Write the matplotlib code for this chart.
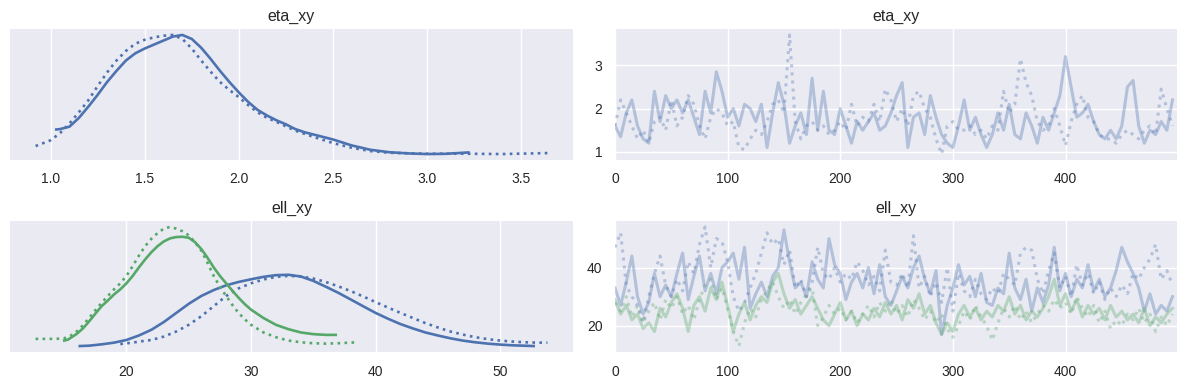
import numpy as np
import matplotlib
matplotlib.use("Agg")
import matplotlib.pyplot as plt

# ---- KDE curves (x grid, density) ----
eta_kde0_x = [1.03, 1.05, 1.1, 1.15, 1.2, 1.25, 1.3, 1.35, 1.4, 1.45, 1.5, 1.55, 1.6, 1.65, 1.7, 1.75,
              1.8, 1.85, 1.9, 1.95, 2.0, 2.05, 2.1, 2.15, 2.2, 2.25, 2.3, 2.35, 2.4, 2.5, 2.6, 2.7, 2.8,
              2.9, 3.0, 3.1, 3.22]
eta_kde0_y = [0.325, 0.33, 0.36, 0.47, 0.61, 0.76, 0.92, 1.06, 1.19, 1.28, 1.34, 1.39, 1.44, 1.49, 1.51, 1.46,
              1.35, 1.21, 1.06, 0.92, 0.79, 0.67, 0.57, 0.50, 0.44, 0.39, 0.33, 0.29, 0.26, 0.20, 0.125,
              0.07, 0.04, 0.025, 0.017, 0.02, 0.037]

eta_kde1_x = [0.92, 1.0, 1.05, 1.1, 1.15, 1.2, 1.25, 1.3, 1.35, 1.4, 1.45, 1.5, 1.55, 1.6, 1.65, 1.7,
              1.75, 1.8, 1.85, 1.9, 1.95, 2.0, 2.05, 2.1, 2.15, 2.2, 2.3, 2.4, 2.5, 2.6, 2.7, 2.8, 3.0,
              3.2, 3.4, 3.64]
eta_kde1_y = [0.117, 0.19, 0.28, 0.40, 0.54, 0.69, 0.87, 1.04, 1.19, 1.31, 1.40, 1.45, 1.48, 1.50, 1.51, 1.46,
              1.34, 1.19, 1.05, 0.92, 0.82, 0.73, 0.63, 0.54, 0.47, 0.42, 0.31, 0.23, 0.155, 0.096, 0.054,
              0.033, 0.021, 0.021, 0.017, 0.029]

ell0_kde0_x = [16.25, 17, 18, 19, 20, 21, 22, 23, 24, 25, 26, 27, 28, 29, 30, 31, 32, 33, 34, 35, 36,
               37, 38, 39, 40, 41, 42, 43, 44, 45, 46, 47, 48, 49, 50, 51, 52.7]
ell0_kde0_y = [0.0019, 0.0022, 0.0033, 0.0047, 0.0069, 0.0106, 0.0153, 0.0217, 0.0292, 0.0367, 0.0431,
               0.0480, 0.0519, 0.0547, 0.0569, 0.0589, 0.0603, 0.0606, 0.0592, 0.0556, 0.0508, 0.0458,
               0.0403, 0.0347, 0.0292, 0.0244, 0.0200, 0.0164, 0.0131, 0.0106, 0.0083, 0.0064, 0.0050,
               0.0039, 0.0031, 0.0025, 0.0019]
ell0_kde1_x = [19.5, 20.5, 21, 22, 23, 24, 25, 26, 27, 28, 29, 30, 31, 32, 33, 34, 35, 36, 37, 38, 39,
               40, 41, 42, 43, 44, 45, 46, 47, 48, 49, 50, 51, 52, 53, 53.8]
ell0_kde1_y = [0.0036, 0.0047, 0.0056, 0.0069, 0.0097, 0.0139, 0.0194, 0.0264, 0.0347, 0.0431, 0.0494,
               0.0536, 0.0567, 0.0589, 0.0597, 0.0592, 0.0575, 0.0547, 0.0511, 0.0472, 0.0428, 0.0381,
               0.0336, 0.0292, 0.0250, 0.0208, 0.0172, 0.0139, 0.0114, 0.0092, 0.0076, 0.0064, 0.0056,
               0.0050, 0.0047, 0.0047]

ell1_kde0_x = [15.0, 15.3, 15.6, 16, 16.5, 17, 17.5, 18, 18.5, 19, 19.5, 20, 20.5, 21, 21.5, 22, 22.5,
               23, 23.5, 24, 24.5, 25, 25.5, 26, 26.5, 27, 27.5, 28, 28.5, 29, 29.5, 30, 31, 32, 33,
               34, 35, 36, 36.8]
ell1_kde0_y = [0.0064, 0.0072, 0.0092, 0.0119, 0.0164, 0.0222, 0.0286, 0.0347, 0.0394, 0.0444, 0.0486,
               0.0536, 0.0597, 0.0667, 0.0733, 0.0792, 0.0842, 0.0881, 0.0906, 0.0917, 0.0919, 0.0911,
               0.0875, 0.0819, 0.0747, 0.0667, 0.0597, 0.0536, 0.0475, 0.0417, 0.0364, 0.0319, 0.0250,
               0.0194, 0.0158, 0.0131, 0.0117, 0.0111, 0.0111]
ell1_kde1_x = [12.7, 14, 14.5, 15, 15.5, 16, 16.5, 17, 17.5, 18, 18.5, 19, 19.5, 20, 20.5, 21, 21.5,
               22, 22.5, 23, 23.5, 24, 24.5, 25, 25.5, 26, 26.5, 27, 27.5, 28, 28.5, 29, 29.5, 30, 31,
               32, 33, 34, 35, 36, 37, 38.5]
ell1_kde1_y = [0.0078, 0.0078, 0.0079, 0.0083, 0.0103, 0.0139, 0.0190, 0.0250, 0.0314, 0.0375, 0.0431,
               0.0486, 0.0536, 0.0597, 0.0678, 0.0764, 0.0842, 0.0903, 0.0950, 0.0986, 0.1000, 0.0986,
               0.0964, 0.0931, 0.0875, 0.0806, 0.0706, 0.0597, 0.0508, 0.0431, 0.0358, 0.0292, 0.0239,
               0.0194, 0.0131, 0.0092, 0.0064, 0.0050, 0.0042, 0.0039, 0.0042, 0.0050]

# ---- traces, one value every 5 draws ----
draw_step = 5
eta_chain0 = [1.6, 1.35, 1.9, 2.2, 1.6, 1.3, 1.2, 2.4, 1.7, 2.3,
              2.0, 2.2, 1.9, 2.2, 1.8, 1.4, 2.4, 1.9, 2.85, 2.4,
              1.8, 2.0, 1.6, 2.1, 2.0, 1.7, 2.1, 1.1, 1.9, 2.6,
              2.1, 1.2, 1.6, 1.9, 1.4, 2.7, 1.5, 2.4, 1.5, 1.4,
              2.0, 1.6, 1.2, 1.7, 1.5, 1.7, 1.9, 1.5, 1.6, 1.9,
              2.3, 2.6, 1.1, 1.8, 1.9, 1.4, 2.3, 1.8, 1.4, 1.2,
              1.1, 1.6, 2.2, 1.5, 1.8, 1.4, 1.1, 1.4, 1.9, 1.5,
              2.1, 1.4, 1.3, 1.9, 1.6, 1.2, 1.8, 1.5, 1.9, 2.3,
              3.2, 2.5, 1.8, 1.9, 2.1, 1.7, 1.4, 1.3, 1.5, 1.3,
              1.6, 2.5, 2.65, 1.6, 1.2, 1.5, 1.4, 1.7, 1.5, 2.2]
eta_chain1 = [1.6, 2.2, 1.9, 1.6, 1.3, 1.5, 1.2, 1.7, 1.8, 1.5,
              2.2, 1.6, 1.8, 2.3, 2.1, 1.6, 1.3, 1.8, 2.0, 1.9,
              1.6, 1.7, 1.1, 1.05, 1.3, 1.5, 1.4, 1.7, 2.1, 2.2,
              1.9, 3.7, 1.7, 1.3, 1.6, 1.7, 1.5, 1.6, 1.4, 1.5,
              1.7, 1.5, 2.1, 1.6, 1.8, 1.7, 2.1, 1.7, 2.45, 2.2,
              1.7, 2.0, 1.6, 2.3, 2.4, 2.0, 1.8, 1.3, 0.95, 1.6,
              1.7, 1.5, 1.5, 1.6, 1.4, 1.5, 1.3, 1.6, 1.5, 2.4,
              1.9, 2.1, 3.15, 2.6, 2.3, 1.7, 1.5, 1.6, 2.0, 1.6,
              1.15, 1.7, 2.1, 2.3, 1.8, 1.7, 1.4, 1.3, 1.3, 1.2,
              1.4, 1.5, 1.4, 1.3, 1.5, 1.6, 1.4, 2.45, 2.0, 1.6]

ell0_chain0 = [33, 27, 35, 44, 30, 24, 28, 38, 30, 34,
               30, 38, 45, 29, 37, 44, 32, 38, 31, 40,
               42, 45, 36, 47, 26, 31, 35, 30, 37, 40,
               53, 42, 33, 35, 30, 42, 36, 33, 50, 41,
               38, 29, 35, 38, 33, 40, 31, 41, 30, 27,
               32, 37, 33, 40, 44, 36, 31, 39, 17, 27,
               33, 41, 34, 37, 30, 38, 28, 27, 33, 31,
               45, 33, 29, 36, 25, 33, 28, 34, 47, 32,
               38, 30, 36, 33, 41, 32, 36, 30, 33, 39,
               47, 42, 38, 33, 25, 31, 24, 27, 25, 30]
ell0_chain1 = [47, 52, 34, 30, 27, 21, 30, 38, 44, 34,
               30, 36, 32, 42, 38, 48, 54, 40, 50, 49,
               42, 30, 25, 28, 33, 38, 45, 52, 48, 50,
               41, 46, 33, 36, 30, 35, 47, 38, 36, 40,
               35, 38, 36, 42, 39, 34, 37, 32, 46, 35,
               34, 38, 33, 51, 33, 37, 30, 35, 28, 40,
               25, 38, 32, 30, 36, 31, 29, 33, 31, 38,
               36, 34, 45, 47, 46, 36, 31, 39, 45, 33,
               37, 30, 41, 34, 38, 31, 35, 29, 33, 30,
               34, 31, 38, 36, 40, 43, 48, 36, 39, 34]
ell1_chain0 = [29, 24, 27, 22, 24, 19, 21, 18, 26, 23,
               28, 31, 26, 18, 27, 30, 25, 33, 29, 35,
               27, 18, 24, 28, 22, 27, 30, 28, 35, 38,
               31, 26, 29, 24, 27, 30, 26, 22, 20, 24,
               28, 22, 25, 20, 24, 22, 26, 23, 28, 24,
               27, 22, 29, 26, 31, 24, 27, 21, 17, 21,
               18, 24, 27, 23, 26, 22, 25, 23, 27, 25,
               30, 24, 27, 22, 25, 23, 26, 30, 36, 27,
               31, 25, 29, 23, 27, 24, 26, 22, 27, 23,
               25, 22, 24, 21, 26, 20, 23, 21, 24, 26]
ell1_chain1 = [28, 25, 30, 23, 27, 21, 25, 28, 22, 29,
               26, 30, 24, 27, 22, 29, 34, 36, 29, 33,
               26, 18, 13, 21, 26, 23, 29, 32, 35, 30,
               26, 29, 24, 28, 31, 33, 20, 23, 27, 24,
               26, 22, 25, 21, 24, 27, 23, 28, 25, 29,
               24, 27, 23, 29, 26, 22, 25, 21, 24, 19,
               16, 20, 25, 22, 27, 23, 20, 15, 21, 26,
               23, 27, 22, 25, 21, 24, 27, 25, 29, 26,
               28, 24, 30, 26, 23, 27, 21, 25, 19, 22,
               20, 24, 22, 26, 21, 24, 18, 23, 20, 24]

blue = "#4c72b0"
green = "#55a868"
txt = "#262626"

plt.rcParams["font.family"] = ["Liberation Sans", "DejaVu Sans"]

fig = plt.figure(figsize=(11.86, 3.86), dpi=100)
W, H = 1186, 386


def make_ax(l, t, r, b):
    ax = fig.add_axes([l / W, 1 - b / H, (r - l) / W, (b - t) / H])
    ax.set_facecolor("#eaeaf2")
    for s in ax.spines.values():
        s.set_visible(False)
    ax.grid(True, color="white", lw=1.0)
    ax.set_axisbelow(True)
    ax.tick_params(length=0, pad=9, labelsize=10, labelcolor=txt)
    return ax


ax_tl = make_ax(10, 29, 573, 160)
ax_tr = make_ax(615, 29, 1177, 160)
ax_bl = make_ax(10, 221, 573, 352)
ax_br = make_ax(615, 221, 1177, 352)

# posterior densities
kde_lw = 1.9
ax_tl.plot(eta_kde0_x, eta_kde0_y, color=blue, lw=kde_lw)
ax_tl.plot(eta_kde1_x, eta_kde1_y, color=blue, lw=kde_lw, ls=":")
ax_bl.plot(ell0_kde0_x, ell0_kde0_y, color=blue, lw=kde_lw)
ax_bl.plot(ell0_kde1_x, ell0_kde1_y, color=blue, lw=kde_lw, ls=":")
ax_bl.plot(ell1_kde0_x, ell1_kde0_y, color=green, lw=kde_lw)
ax_bl.plot(ell1_kde1_x, ell1_kde1_y, color=green, lw=kde_lw, ls=":")
for ax in (ax_tl, ax_bl):
    ax.set_yticks([])
ax_tl.set_xticks([1.0, 1.5, 2.0, 2.5, 3.0, 3.5])
ax_bl.set_xticks([20, 30, 40, 50])

# traces
draws = np.arange(len(eta_chain0)) * draw_step
ax_tr.plot(draws, eta_chain0, color=blue, lw=2.2, alpha=0.35)
ax_tr.plot(draws, eta_chain1, color=blue, lw=2.2, alpha=0.35, ls=":")
ax_br.plot(draws, ell0_chain0, color=blue, lw=2.2, alpha=0.35)
ax_br.plot(draws, ell0_chain1, color=blue, lw=2.2, alpha=0.35, ls=":")
ax_br.plot(draws, ell1_chain0, color=green, lw=2.2, alpha=0.35)
ax_br.plot(draws, ell1_chain1, color=green, lw=2.2, alpha=0.35, ls=":")
for ax in (ax_tr, ax_br):
    ax.set_xlim(0, 499)
    ax.set_xticks([0, 100, 200, 300, 400])
ax_tr.set_yticks([1, 2, 3])
ax_br.set_yticks([20, 40])

for ax, name in ((ax_tl, "eta_xy"), (ax_tr, "eta_xy"), (ax_bl, "ell_xy"), (ax_br, "ell_xy")):
    ax.set_title(name, fontsize=11.5, color=txt, pad=6)

fig.savefig("out.png", dpi=100)
